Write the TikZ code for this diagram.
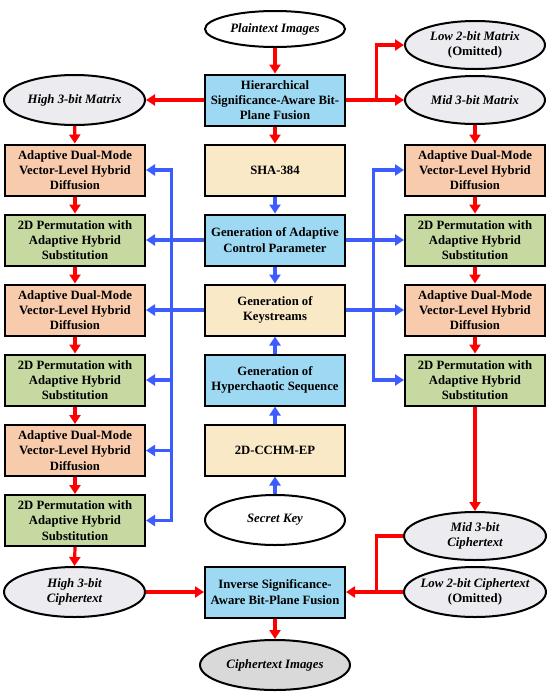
\documentclass[tikz,border=0pt]{standalone}
\usepackage{fontspec}
\setmainfont{Liberation Serif}
\usetikzlibrary{shapes.geometric,arrows.meta}
\definecolor{cOrange}{HTML}{F8CBAD}
\definecolor{cGreen}{HTML}{C5D9A1}
\definecolor{cCream}{HTML}{F9E9C6}
\definecolor{cSky}{HTML}{9DD9F3}
\definecolor{cGrayE}{HTML}{EBEBF0}
\definecolor{cGrayD}{HTML}{D9D9D9}
\definecolor{cBlue}{HTML}{3D5CFF}
\definecolor{cRed}{HTML}{FF0000}
\begin{document}
\begin{tikzpicture}[x=1pt,y=-1pt,
 box/.style={draw=black,line width=2pt,minimum width=140pt,minimum height=51pt,inner sep=0pt,align=center,font=\bfseries\fontsize{12.7}{15.3}\selectfont},
 ell/.style={draw=black,line width=2pt,ellipse,inner sep=0pt,minimum width=140pt,minimum height=48pt},
 etext/.style={font=\bfseries\itshape\fontsize{12.8}{15.3}\selectfont,align=center,inner sep=0pt},
 rarr/.style={draw=cRed,line width=3.2pt,-{Triangle[length=9pt,width=11pt]}},
 rline/.style={draw=cRed,line width=3.2pt},
 barr/.style={draw=cBlue,line width=3.2pt,-{Triangle[length=9pt,width=11pt]}},
]
\useasboundingbox[fill=white] (0,0) rectangle (550,694);

% top
\node[ell,fill=white,minimum height=36pt] (plain) at (275,29) {};
\node[etext] (plainT) at (plain) {Plaintext Images};
\node[box,fill=cSky] (hier) at (275,100) {Hierarchical\\Significance-Aware Bit-\\Plane Fusion};
\node[ell,fill=cGrayE,minimum width=141pt,minimum height=50pt] (high) at (74.5,100) {};
\node[etext] (highT) at (high) {High 3-bit Matrix};
\node[ell,fill=cGrayE] (low) at (475,45) {};
\node[etext] (lowT) at (low) {Low 2-bit Matrix\\\upshape(Omitted)};
\node[ell,fill=cGrayE] (mid) at (475,100) {};
\node[etext] (midT) at (mid) {Mid 3-bit Matrix};

% left column
\node[box,fill=cOrange] (L1) at (75,170) {Adaptive Dual-Mode\\Vector-Level Hybrid\\Diffusion};
\node[box,fill=cGreen]  (L2) at (75,240) {2D Permutation with\\Adaptive Hybrid\\Substitution};
\node[box,fill=cOrange] (L3) at (75,310) {Adaptive Dual-Mode\\Vector-Level Hybrid\\Diffusion};
\node[box,fill=cGreen]  (L4) at (75,380) {2D Permutation with\\Adaptive Hybrid\\Substitution};
\node[box,fill=cOrange] (L5) at (75,450.5) {Adaptive Dual-Mode\\Vector-Level Hybrid\\Diffusion};
\node[box,fill=cGreen]  (L6) at (75,520.5) {2D Permutation with\\Adaptive Hybrid\\Substitution};

% right column
\node[box,fill=cOrange] (R1) at (475,170) {Adaptive Dual-Mode\\Vector-Level Hybrid\\Diffusion};
\node[box,fill=cGreen]  (R2) at (475,240) {2D Permutation with\\Adaptive Hybrid\\Substitution};
\node[box,fill=cOrange] (R3) at (475,310) {Adaptive Dual-Mode\\Vector-Level Hybrid\\Diffusion};
\node[box,fill=cGreen]  (R4) at (475,380) {2D Permutation with\\Adaptive Hybrid\\Substitution};

% center column
\node[box,fill=cCream] (sha) at (275,170) {SHA-384};
\node[box,fill=cSky] (ctrl) at (275,240) {Generation of Adaptive\\Control Parameter};
\node[box,fill=cCream] (keys) at (275,310) {Generation of\\Keystreams};
\node[box,fill=cSky] (hyp) at (275,380) {Generation of\\Hyperchaotic Sequence};
\node[box,fill=cCream] (cchm) at (275,450) {2D-CCHM-EP};
\node[ell,fill=white,minimum height=50pt] (secret) at (275,520) {};
\node[etext] (secretT) at (secret) {Secret Key};

% bottom
\node[ell,fill=cGrayE,minimum width=141pt,minimum height=50pt] (highc) at (74.5,592) {};
\node[etext] (highcT) at (highc) {High 3-bit\\Ciphertext};
\node[box,fill=cSky] (inv) at (275,592) {Inverse Significance-\\Aware Bit-Plane Fusion};
\node[ell,fill=cGrayE,minimum width=142pt] (midc) at (475,536) {};
\node[etext] (midcT) at (midc) {Mid 3-bit\\Ciphertext};
\node[ell,fill=cGrayE,minimum width=142pt,minimum height=50pt] (lowc) at (475,592) {};
\node[etext] (lowcT) at (lowc) {Low 2-bit Ciphertext\\\upshape(Omitted)};
\node[ell,fill=cGrayD,minimum width=150pt,minimum height=50pt] (cimg) at (275,665) {};
\node[etext] (cimgT) at (cimg) {Ciphertext Images};

% coordinates
\coordinate (rb1) at (376.7,100);
\coordinate (rb2) at (376.7,592);
\coordinate (lt1) at (171.7,170);
\coordinate (lt4) at (171.7,380);
\coordinate (lt5) at (171.7,450.5);
\coordinate (lt6) at (171.7,520.5);
\coordinate (rt1) at (373.3,170);
\coordinate (rt4) at (373.3,380);

% red arrows
\draw[rarr] (plain) -- (hier);
\draw[rarr] (hier) -- (high);
\draw[rarr] (hier) -- (mid);
\draw[rarr] (rb1) |- (low.west);
\draw[rarr] (hier) -- (sha);
\draw[rarr] (high) -- (L1);
\draw[rarr] (L1) -- (L2);
\draw[rarr] (L2) -- (L3);
\draw[rarr] (L3) -- (L4);
\draw[rarr] (L4) -- (L5);
\draw[rarr] (L5) -- (L6);
\draw[rarr] (L6.south) -- (highc.north);
\draw[rarr] (mid) -- (R1);
\draw[rarr] (R1) -- (R2);
\draw[rarr] (R2) -- (R3);
\draw[rarr] (R3) -- (R4);
\draw[rarr] (R4.south) -- (midc.north);
\draw[rarr] (highc.east) -- (inv.west);
\draw[rline] (midc.west) -| (rb2);
\draw[rarr] (lowc.west) -- (inv.east);
\draw[rarr] (inv) -- (cimg);

% blue arrows
\draw[barr] (sha) -- (ctrl);
\draw[barr] (ctrl) -- (keys);
\draw[barr] (hyp) -- (keys);
\draw[barr] (cchm) -- (hyp);
\draw[barr] (secret) -- (cchm);
\draw[barr] (lt6) -- (lt1) -- (L1.east);
\draw[barr] (lt1) -- (lt6) -- (L6.east);
\draw[barr] (lt4) -- (L4.east);
\draw[barr] (lt5) -- (L5.east);
\draw[barr] (ctrl.west) -- (L2.east);
\draw[barr] (keys.west) -- (L3.east);
\draw[barr] (rt4) -- (rt1) -- (R1.west);
\draw[barr] (rt1) -- (rt4) -- (R4.west);
\draw[barr] (ctrl.east) -- (R2.west);
\draw[barr] (keys.east) -- (R3.west);
\end{tikzpicture}
\end{document}
